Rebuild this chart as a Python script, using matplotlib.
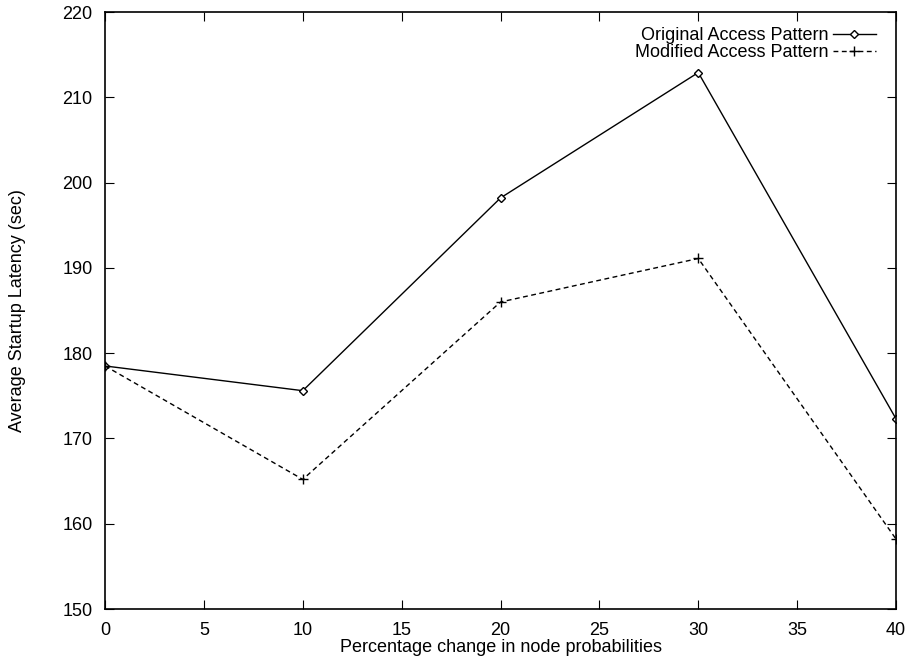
import matplotlib
matplotlib.use('agg')
import matplotlib.pyplot as plt

plt.rcParams['font.family'] = ['Liberation Sans', 'DejaVu Sans']

pct_change = [0, 10, 20, 30, 40]
original = [178.5, 175.6, 198.2, 212.9, 172.3]
modified = [178.5, 165.2, 186.0, 191.1, 158.2]

fig = plt.figure(figsize=(9.07, 6.56), dpi=100)
ax = fig.add_axes([0.1158, 0.0716, 0.8721, 0.9101])

ax.plot(pct_change, original, color='black', lw=1.0, marker='D', ms=4.5,
        mfc='white', mec='black', mew=1.0, label='Original Access Pattern')
ax.plot(pct_change, modified, color='black', lw=1.0, ls=(0, (3.5, 2.5)), marker='+',
        ms=6.5, mew=1.0, label='Modified Access Pattern')

ax.set_xlim(0, 40)
ax.set_ylim(150, 220)
ax.set_xticks(range(0, 41, 5))
ax.set_yticks(range(150, 221, 10))
ax.tick_params(direction='in', top=True, right=True, length=6.5, labelsize=13, pad=9)
for s in ax.spines.values():
    s.set_linewidth(1.2)

ax.set_xlabel('Percentage change in node probabilities', fontsize=13, labelpad=0)
ax.set_ylabel('Average Startup Latency (sec)', fontsize=13, labelpad=26)

ax.legend(loc='upper right', bbox_to_anchor=(0.994, 1.0), frameon=False,
          markerfirst=False, fontsize=13, handlelength=2.4, handletextpad=0.25,
          labelspacing=0.0, borderaxespad=0.45)

fig.savefig('out.png', dpi=100)
